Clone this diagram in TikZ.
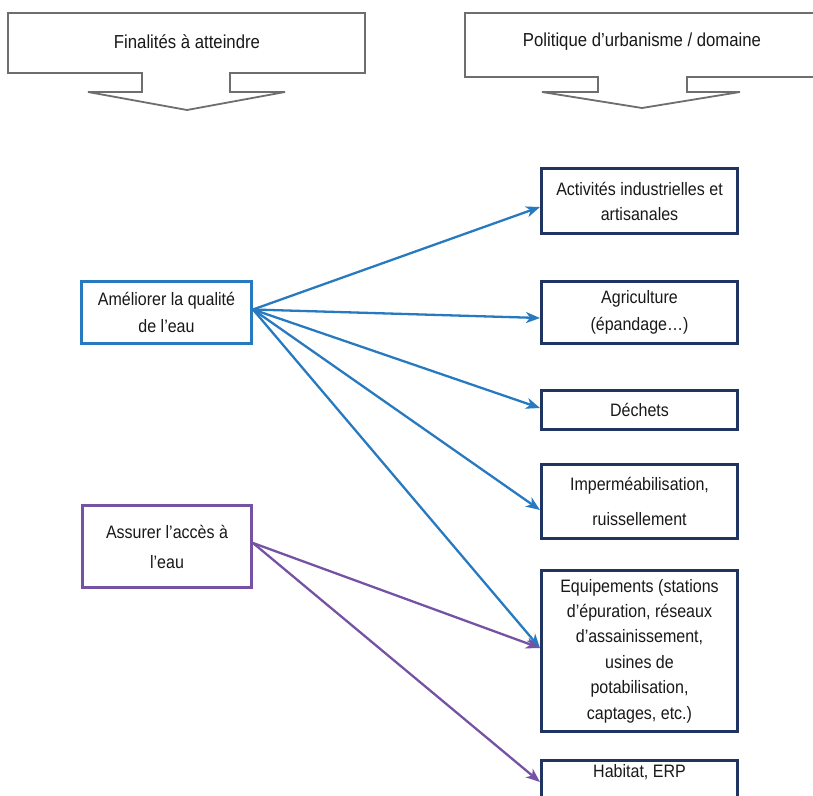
\documentclass[tikz,border=0pt]{standalone}
\usepackage{fontspec}
\setmainfont{Liberation Sans}[FakeStretch=0.89]
\usetikzlibrary{arrows.meta,calc}
\definecolor{calloutgray}{RGB}{110,110,110}
\definecolor{goalblue}{RGB}{40,122,192}
\definecolor{goalpurple}{RGB}{117,82,163}
\definecolor{domainnavy}{RGB}{31,52,96}
\tikzset{
  callout/.style={draw=calloutgray, line width=1.8pt, fill=white, line join=miter},
  titletext/.style={font=\fontsize{18.8}{22}\selectfont, text=black!90},
  boxtext/.style={font=\fontsize{18}{26}\selectfont, align=center, text=black!90},
  goalbox/.style={boxtext, draw, line width=3pt, fill=white, inner sep=0pt},
  rbox/.style={boxtext, draw=domainnavy, line width=3pt, fill=white, inner sep=0pt,
    minimum width=196pt},
  link/.style={line width=2.3pt, -{Stealth[length=14pt,width=11pt,inset=4pt]}},
}
\begin{document}
\begin{tikzpicture}[x=1pt,y=-1pt]
\useasboundingbox (0,0) rectangle (813,795);

% header callouts with downward arrow
\draw[callout] (8,13) -- (365,13) -- (365,73) -- (230,73) -- (230,92) -- (285,92)
  -- (187,110) -- (88,92) -- (142,92) -- (142,73) -- (8,73) -- cycle;
\node[titletext] (hleft) at (187,42) {Finalités à atteindre};
\draw[callout] (465,13) -- (818,13) -- (818,77) -- (687,77) -- (687,92) -- (740,92)
  -- (642,108) -- (542,92) -- (598,92) -- (598,77) -- (465,77) -- cycle;
\node[titletext] (hright) at (642,42) {Politique d’urbanisme / domaine};

% goals
\node[goalbox, draw=goalblue, minimum width=170pt, minimum height=62pt,
  font=\fontsize{18}{27}\selectfont] (a1) at (166.5,312.5) {Améliorer la qualité\\de l’eau};
\node[goalbox, draw=goalpurple, minimum width=169pt, minimum height=82pt,
  font=\fontsize{18}{30}\selectfont] (a2) at (167,546.5) {Assurer l’accès à\\l’eau};

% domains
\node[rbox, minimum height=65pt, font=\fontsize{18}{25}\selectfont] (b1) at (639.5,201)
  {Activités industrielles et\\artisanales};
\node[rbox, minimum height=62pt, font=\fontsize{18}{27}\selectfont] (b2) at (639.5,312.5)
  {Agriculture\\(épandage…)};
\node[rbox, minimum height=39pt] (b3) at (639.5,410) {Déchets};
\node[rbox, minimum height=74pt, font=\fontsize{18}{35}\selectfont] (b4) at (639.5,501.5)
  {Imperméabilisation,\\ruissellement};
\node[rbox, minimum height=161pt, font=\fontsize{18}{25.4}\selectfont] (b5) at (639.5,651)
  {Equipements (stations\\d’épuration, réseaux\\d’assainissement,\\usines de\\potabilisation,\\captages, etc.)};
\node[rbox, minimum height=44pt, anchor=north] (b6) at (639.5,758.5) {};
\node[boxtext] (b6t) at (639.5,772) {Habitat, ERP};

% links from goals to domains
\draw[link, goalblue] ($(a1.east)+(0,-3)$) -- ($(b1.west)+(0,6)$);
\draw[link, goalblue] ($(a1.east)+(0,-3)$) -- ($(b2.west)+(0,5.5)$);
\draw[link, goalblue] ($(a1.east)+(0,-3)$) -- ($(b3.west)+(0,-2)$);
\draw[link, goalblue] ($(a1.east)+(0,-3)$) -- ($(b4.west)+(0,8.5)$);
\draw[link, goalblue] ($(a1.east)+(0,-3)$) -- ($(b5.west)+(0,-3)$);
\draw[link, goalpurple] ($(a2.east)+(0,-3.5)$) -- ($(b5.west)+(0,-3)$);
\draw[link, goalpurple] ($(a2.east)+(0,-3.5)$) -- (b6.west);
\end{tikzpicture}
\end{document}
